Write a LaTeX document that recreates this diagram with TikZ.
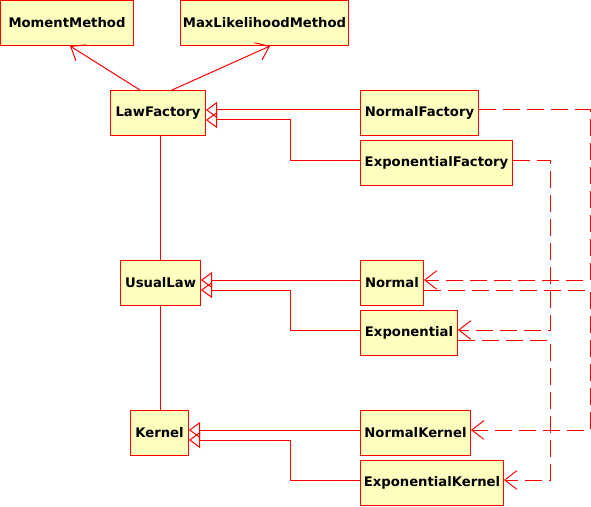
\documentclass[tikz,border=0pt]{standalone}
\usepackage{fontspec}
\setmainfont{DejaVu Sans}
\usetikzlibrary{arrows.meta, % if the figure contains arrow-tips
                positioning
               }
\definecolor{boxfill}{RGB}{255,255,192}
\definecolor{boxline}{RGB}{255,0,0}

\begin{document}
\begin{tikzpicture}[x=0.75pt, y=-0.75pt, line width=0.75pt,
		classbox/.style={draw=boxline, fill=boxfill, anchor=north west, inner sep=0pt,
			minimum height=33.75pt, font=\fontsize{9.9}{12}\selectfont\bfseries},
		inherit/.style={draw=boxline, -{Triangle[open, length=8.25pt, width=12pt]}},
		assoc/.style={draw=boxline, -{Straight Barb[length=9pt, width=14pt]}},
		depend/.style={draw=boxline, dash pattern=on 12.75pt off 5.25pt, -{Straight Barb[length=9pt, width=14pt]}},
		plain/.style={draw=boxline}]
		\useasboundingbox (0,0) rectangle (591,506);
		% Nodes
		\node[classbox, minimum width=99.75pt] (mm) at (0,0) {MomentMethod};
		\node[classbox, minimum width=126pt] (mlm) at (180,0) {MaxLikelihoodMethod};
		\node[classbox, minimum width=71.25pt] (lf) at (110,90) {LawFactory};
		\node[classbox, minimum width=88.5pt] (nf) at (360,90) {NormalFactory};
		\node[classbox, minimum width=114pt] (ef) at (360,140) {ExponentialFactory};
		\node[classbox, minimum width=60pt] (ul) at (120,260) {UsualLaw};
		\node[classbox, minimum width=47.25pt] (nl) at (360,260) {Normal};
		\node[classbox, minimum width=72.75pt] (el) at (360,310) {Exponential};
		\node[classbox, minimum width=43.5pt] (kn) at (130,410) {Kernel};
		\node[classbox, minimum width=82.5pt] (nk) at (360,410) {NormalKernel};
		\node[classbox, minimum width=107.25pt] (ek) at (360,460) {ExponentialKernel};

		% Edges
		\draw[assoc] (lf.north -| 140,0) -- (mm.south -| 70,0);
		\draw[assoc] (lf.north -| 172,0) -- (mlm.south -| 270,0);
		\draw[plain] (lf.south -| 160,0) -- (ul.north -| 160,0);
		\draw[plain] (ul.south -| 160,0) -- (kn.north -| 160,0);

		\draw[inherit] (nf.west |- 0,110) -- (lf.east |- 0,110);
		\draw[inherit] (ef.west |- 0,160) -| (290,120) -- (lf.east |- 0,120);
		\draw[inherit] (nl.west |- 0,280) -- (ul.east |- 0,280);
		\draw[inherit] (el.west |- 0,330) -| (290,290) -- (ul.east |- 0,290);
		\draw[inherit] (nk.west |- 0,430) -- (kn.east |- 0,430);
		\draw[inherit] (ek.west |- 0,480) -| (290,440) -- (kn.east |- 0,440);

		\draw[depend] (nf.east |- 0,110) -- (590,110) -- (590,280) -- (nl.east |- 0,280);
		\draw[depend] (nl.east |- 0,290) -- (590,290) -- (590,430) -- (nk.east |- 0,430);
		\draw[depend] (ef.east |- 0,160) -- (550,160) -- (550,330) -- (el.east |- 0,330);
		\draw[depend] (el.east |- 0,340) -- (550,340) -- (550,480) -- (ek.east |- 0,480);
	\end{tikzpicture}
\end{document}
